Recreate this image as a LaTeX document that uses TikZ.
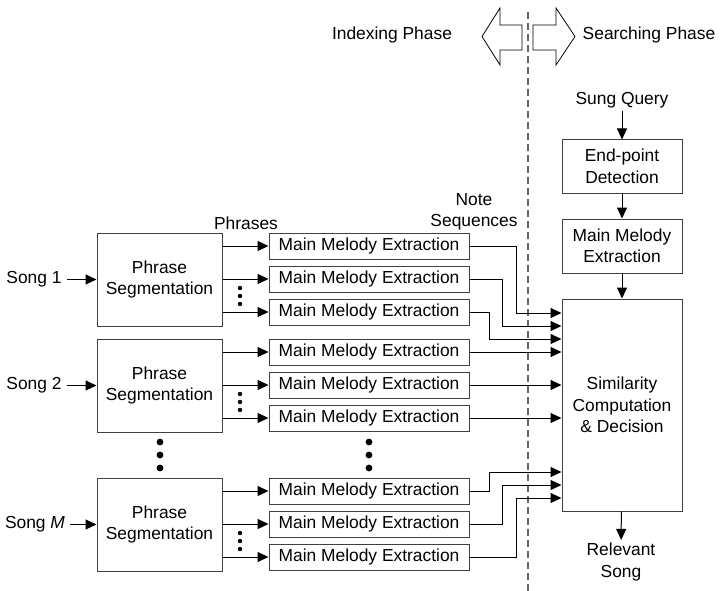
\documentclass[tikz,border=0pt]{standalone}
\usepackage{fontspec}
\setmainfont{Liberation Sans}
\usetikzlibrary{arrows.meta}

\tikzset{
  block/.style={draw=black!75, line width=1pt, align=center, inner sep=2pt},
  phrasebox/.style={block, minimum width=125pt, minimum height=93pt},
  mmebox/.style={block, minimum width=200pt, minimum height=26pt},
  qbox/.style={block, minimum width=120pt},
  arr/.style={-{Triangle[length=11pt,width=10pt]}, line width=1pt},
  lbl/.style={align=center, inner sep=3pt},
  songlbl/.style={lbl, inner xsep=5pt},
}

\begin{document}
\begin{tikzpicture}[x=1pt, y=-1pt, font=\fontsize{17.4}{21.5}\selectfont]
  \useasboundingbox (0,0) rectangle (728,591);

  % phase divider and arrows
  \draw[black!60, line width=1.2pt, dash pattern=on 7pt off 4pt] (528,12) -- (528,591);
  \draw[line width=0.8pt] (522,25) -- (500,25) -- (500,8) -- (482,36.5) -- (500,65) -- (500,50) -- (522,50) -- cycle;
  \draw[line width=0.8pt] (533,25) -- (556,25) -- (556,8) -- (575,36.5) -- (556,65) -- (556,50) -- (533,50) -- cycle;
  \node[lbl] (idx) at (392,35) {Indexing Phase};
  \node[lbl] (srch) at (649,35) {Searching Phase};

  % song 1
  \node[phrasebox] (seg1) at (159.5,279.5) {Phrase\\Segmentation};
  \node[mmebox] (m11) at (369,246) {Main Melody Extraction};
  \node[mmebox] (m12) at (369,279) {Main Melody Extraction};
  \node[mmebox] (m13) at (369,312) {Main Melody Extraction};

  % song 2
  \node[phrasebox] (seg2) at (159.5,385.5) {Phrase\\Segmentation};
  \node[mmebox] (m21) at (369,352) {Main Melody Extraction};
  \node[mmebox] (m22) at (369,385) {Main Melody Extraction};
  \node[mmebox] (m23) at (369,418) {Main Melody Extraction};

  % song M
  \node[phrasebox] (segM) at (159.5,524.5) {Phrase\\Segmentation};
  \node[mmebox] (mM1) at (369,491) {Main Melody Extraction};
  \node[mmebox] (mM2) at (369,524) {Main Melody Extraction};
  \node[mmebox] (mM3) at (369,557) {Main Melody Extraction};

  \node[songlbl] (song1) at (34,279.5) {Song 1};
  \node[songlbl] (song2) at (34,385.5) {Song 2};
  \node[songlbl] (songM) at (35,524.5) {Song \textit{M}};
  \draw[arr] (song1) -- (seg1);
  \draw[arr] (song2) -- (seg2);
  \draw[arr] (songM) -- (segM);

  \node[lbl] (phr) at (246,223) {Phrases};
  \node[lbl] (notes) at (474,212) {Note\\Sequences};

  % phrases into melody extraction
  \draw[arr] (seg1.east |- m11.west) -- (m11.west);
  \draw[arr] (seg1.east |- m12.west) -- (m12.west);
  \draw[arr] (seg1.east |- m13.west) -- (m13.west);
  \draw[arr] (seg2.east |- m21.west) -- (m21.west);
  \draw[arr] (seg2.east |- m22.west) -- (m22.west);
  \draw[arr] (seg2.east |- m23.west) -- (m23.west);
  \draw[arr] (segM.east |- mM1.west) -- (mM1.west);
  \draw[arr] (segM.east |- mM2.west) -- (mM2.west);
  \draw[arr] (segM.east |- mM3.west) -- (mM3.west);

  % dots
  \foreach \y in {288,296,304} {
    \fill (240,\y) circle (2.2pt);
    \fill (240,\y+106) circle (2.2pt);
    \fill (240,\y+245) circle (2.2pt);
  }
  \foreach \y in {442,455,468} {
    \fill (160,\y) circle (3.4pt);
    \fill (369,\y) circle (3.4pt);
  }

  % searching side
  \node[lbl] (query) at (622,100) {Sung Query};
  \node[qbox, minimum height=53pt] (ep) at (622,166.5) {End-point\\Detection};
  \node[qbox, minimum height=54pt] (mq) at (622,246) {Main Melody\\Extraction};
  \node[qbox, minimum height=212pt] (sim) at (622,405) {Similarity\\Computation\\\& Decision};
  \node[lbl] (rel) at (621,562) {Relevant\\Song};
  \draw[arr] (query) -- (ep);
  \draw[arr] (ep) -- (mq);
  \draw[arr] (mq) -- (sim);
  \draw[arr] (sim) -- (rel);

  % note sequences into similarity
  \draw[arr] (m11.east) -| (516,313) -- (sim.west |- 516,313);
  \draw[arr] (m12.east) -| (502,326) -- (sim.west |- 502,326);
  \draw[arr] (m13.east) -| (489,339) -- (sim.west |- 489,339);
  \draw[arr] (m21.east) -- (sim.west |- m21.east);
  \draw[arr] (m22.east) -- (sim.west |- m22.east);
  \draw[arr] (m23.east) -- (sim.west |- m23.east);
  \draw[arr] (mM1.east) -| (489,472) -- (sim.west |- 489,472);
  \draw[arr] (mM2.east) -| (502,485) -- (sim.west |- 502,485);
  \draw[arr] (mM3.east) -| (516,498) -- (sim.west |- 516,498);
\end{tikzpicture}
\end{document}
